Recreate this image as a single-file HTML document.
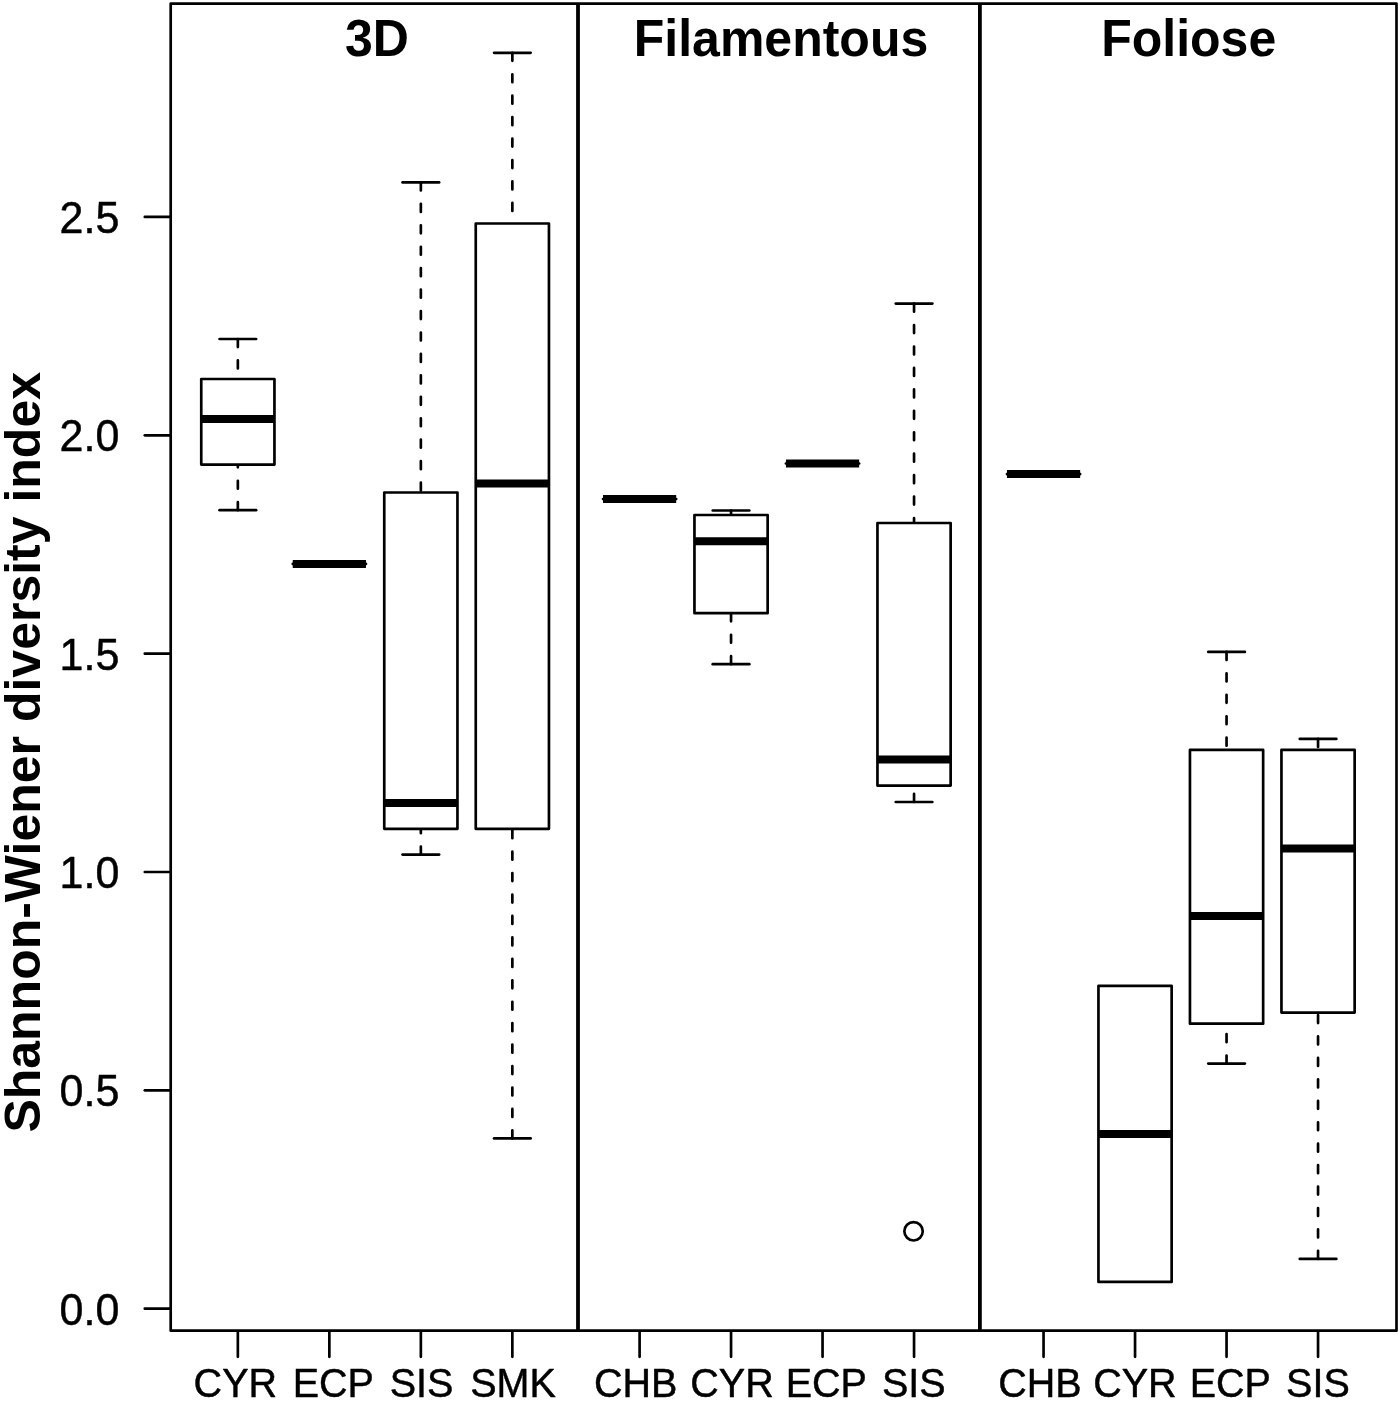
<!DOCTYPE html>
<html lang="en"><head><meta charset="utf-8"><title>Shannon-Wiener diversity index</title>
<style>
html,body{margin:0;padding:0;background:#fff;}
body{width:1400px;height:1401px;overflow:hidden;}
svg{display:block;}
text{font-family:"Liberation Sans",sans-serif;fill:#000;}
.b{font-weight:bold;}
.r{stroke:#000;stroke-width:0.45px;stroke-linejoin:round;}
.ln{stroke:#000;stroke-width:2.68;fill:none;stroke-linecap:round;stroke-linejoin:round;}
.bx{stroke:#000;stroke-width:2.68;fill:#fff;stroke-linejoin:round;}
.wh{stroke:#000;stroke-width:2.68;fill:none;stroke-linecap:round;stroke-dasharray:8.04 13.4;}
.md{stroke:#000;stroke-width:8;fill:none;stroke-linecap:butt;}
</style></head><body>
<svg width="1400" height="1401" viewBox="0 0 1400 1401">
<rect x="0" y="0" width="1400" height="1401" fill="#fff"/>
<g>
<line class="wh" x1="237.85" y1="339.00" x2="237.85" y2="379.00"/>
<line class="ln" x1="219.55" y1="339.00" x2="256.15" y2="339.00"/>
<line class="wh" x1="237.85" y1="510.20" x2="237.85" y2="464.60"/>
<line class="ln" x1="219.55" y1="510.20" x2="256.15" y2="510.20"/>
<rect class="bx" x="201.25" y="379.00" width="73.20" height="85.60"/>
<line class="md" x1="201.25" y1="419.00" x2="274.45" y2="419.00"/>
</g>
<g>
<line class="ln" x1="292.75" y1="563.90" x2="365.95" y2="563.90"/>
<line class="md" x1="292.75" y1="563.90" x2="365.95" y2="563.90"/>
</g>
<g>
<line class="wh" x1="420.85" y1="182.40" x2="420.85" y2="492.50"/>
<line class="ln" x1="402.55" y1="182.40" x2="439.15" y2="182.40"/>
<line class="wh" x1="420.85" y1="854.60" x2="420.85" y2="828.80"/>
<line class="ln" x1="402.55" y1="854.60" x2="439.15" y2="854.60"/>
<rect class="bx" x="384.25" y="492.50" width="73.20" height="336.30"/>
<line class="md" x1="384.25" y1="803.00" x2="457.45" y2="803.00"/>
</g>
<g>
<line class="wh" x1="512.35" y1="52.80" x2="512.35" y2="223.50"/>
<line class="ln" x1="494.05" y1="52.80" x2="530.65" y2="52.80"/>
<line class="wh" x1="512.35" y1="1138.40" x2="512.35" y2="828.80"/>
<line class="ln" x1="494.05" y1="1138.40" x2="530.65" y2="1138.40"/>
<rect class="bx" x="475.75" y="223.50" width="73.20" height="605.30"/>
<line class="md" x1="475.75" y1="483.50" x2="548.95" y2="483.50"/>
</g>
<g>
<line class="ln" x1="603.00" y1="499.00" x2="676.20" y2="499.00"/>
<line class="md" x1="603.00" y1="499.00" x2="676.20" y2="499.00"/>
</g>
<g>
<line class="wh" x1="731.05" y1="510.50" x2="731.05" y2="515.00"/>
<line class="ln" x1="712.75" y1="510.50" x2="749.35" y2="510.50"/>
<line class="wh" x1="731.05" y1="664.20" x2="731.05" y2="613.20"/>
<line class="ln" x1="712.75" y1="664.20" x2="749.35" y2="664.20"/>
<rect class="bx" x="694.45" y="515.00" width="73.20" height="98.20"/>
<line class="md" x1="694.45" y1="541.20" x2="767.65" y2="541.20"/>
</g>
<g>
<line class="ln" x1="785.95" y1="463.50" x2="859.15" y2="463.50"/>
<line class="md" x1="785.95" y1="463.50" x2="859.15" y2="463.50"/>
</g>
<g>
<line class="wh" x1="914.05" y1="303.60" x2="914.05" y2="523.00"/>
<line class="ln" x1="895.75" y1="303.60" x2="932.35" y2="303.60"/>
<line class="wh" x1="914.05" y1="802.00" x2="914.05" y2="785.60"/>
<line class="ln" x1="895.75" y1="802.00" x2="932.35" y2="802.00"/>
<rect class="bx" x="877.45" y="523.00" width="73.20" height="262.60"/>
<line class="md" x1="877.45" y1="759.60" x2="950.65" y2="759.60"/>
<circle class="ln" cx="913.55" cy="1231.30" r="9.2"/>
</g>
<g>
<line class="ln" x1="1006.95" y1="474.10" x2="1080.15" y2="474.10"/>
<line class="md" x1="1006.95" y1="474.10" x2="1080.15" y2="474.10"/>
</g>
<g>
<rect class="bx" x="1098.45" y="985.90" width="73.20" height="296.00"/>
<line class="md" x1="1098.45" y1="1133.90" x2="1171.65" y2="1133.90"/>
</g>
<g>
<line class="wh" x1="1226.55" y1="651.90" x2="1226.55" y2="749.90"/>
<line class="ln" x1="1208.25" y1="651.90" x2="1244.85" y2="651.90"/>
<line class="wh" x1="1226.55" y1="1063.60" x2="1226.55" y2="1023.70"/>
<line class="ln" x1="1208.25" y1="1063.60" x2="1244.85" y2="1063.60"/>
<rect class="bx" x="1189.95" y="749.90" width="73.20" height="273.80"/>
<line class="md" x1="1189.95" y1="915.90" x2="1263.15" y2="915.90"/>
</g>
<g>
<line class="wh" x1="1318.05" y1="738.90" x2="1318.05" y2="749.90"/>
<line class="ln" x1="1299.75" y1="738.90" x2="1336.35" y2="738.90"/>
<line class="wh" x1="1318.05" y1="1258.90" x2="1318.05" y2="1012.60"/>
<line class="ln" x1="1299.75" y1="1258.90" x2="1336.35" y2="1258.90"/>
<rect class="bx" x="1281.45" y="749.90" width="73.20" height="262.70"/>
<line class="md" x1="1281.45" y1="848.40" x2="1354.65" y2="848.40"/>
</g>
<rect class="ln" x="170.70" y="3.60" width="1225.80" height="1327.10" />
<line class="ln" x1="578.00" y1="3.60" x2="578.00" y2="1330.70" style="stroke-width:3.8;stroke-linecap:butt"/>
<line class="ln" x1="979.90" y1="3.60" x2="979.90" y2="1330.70" style="stroke-width:3.8;stroke-linecap:butt"/>
<line class="ln" x1="144.80" y1="1308.70" x2="169.70" y2="1308.70"/>
<text class="r" transform="translate(119.3,1324.70) scale(1,1.04)" font-size="43" text-anchor="end">0.0</text>
<line class="ln" x1="144.80" y1="1090.35" x2="169.70" y2="1090.35"/>
<text class="r" transform="translate(119.3,1106.35) scale(1,1.04)" font-size="43" text-anchor="end">0.5</text>
<line class="ln" x1="144.80" y1="872.00" x2="169.70" y2="872.00"/>
<text class="r" transform="translate(119.3,888.00) scale(1,1.04)" font-size="43" text-anchor="end">1.0</text>
<line class="ln" x1="144.80" y1="653.65" x2="169.70" y2="653.65"/>
<text class="r" transform="translate(119.3,669.65) scale(1,1.04)" font-size="43" text-anchor="end">1.5</text>
<line class="ln" x1="144.80" y1="435.30" x2="169.70" y2="435.30"/>
<text class="r" transform="translate(119.3,451.30) scale(1,1.04)" font-size="43" text-anchor="end">2.0</text>
<line class="ln" x1="144.80" y1="216.95" x2="169.70" y2="216.95"/>
<text class="r" transform="translate(119.3,232.95) scale(1,1.04)" font-size="43" text-anchor="end">2.5</text>
<line class="ln" x1="237.85" y1="1331.70" x2="237.85" y2="1356.80"/>
<text class="r" transform="translate(235.30,1397.3) scale(1,1.05)" font-size="39.5" text-anchor="middle">CYR</text>
<line class="ln" x1="329.35" y1="1331.70" x2="329.35" y2="1356.80"/>
<text class="r" transform="translate(333.35,1397.3) scale(1,1.05)" font-size="39.5" text-anchor="middle">ECP</text>
<line class="ln" x1="420.85" y1="1331.70" x2="420.85" y2="1356.80"/>
<text class="r" transform="translate(421.45,1397.3) scale(1,1.05)" font-size="39.5" text-anchor="middle">SIS</text>
<line class="ln" x1="512.35" y1="1331.70" x2="512.35" y2="1356.80"/>
<text class="r" transform="translate(513.00,1397.3) scale(1,1.05)" font-size="39.5" text-anchor="middle">SMK</text>
<line class="ln" x1="639.60" y1="1331.70" x2="639.60" y2="1356.80"/>
<text class="r" transform="translate(635.60,1397.3) scale(1,1.05)" font-size="39.5" text-anchor="middle">CHB</text>
<line class="ln" x1="731.05" y1="1331.70" x2="731.05" y2="1356.80"/>
<text class="r" transform="translate(732.00,1397.3) scale(1,1.05)" font-size="39.5" text-anchor="middle">CYR</text>
<line class="ln" x1="822.55" y1="1331.70" x2="822.55" y2="1356.80"/>
<text class="r" transform="translate(826.35,1397.3) scale(1,1.05)" font-size="39.5" text-anchor="middle">ECP</text>
<line class="ln" x1="914.05" y1="1331.70" x2="914.05" y2="1356.80"/>
<text class="r" transform="translate(913.75,1397.3) scale(1,1.05)" font-size="39.5" text-anchor="middle">SIS</text>
<line class="ln" x1="1043.55" y1="1331.70" x2="1043.55" y2="1356.80"/>
<text class="r" transform="translate(1039.90,1397.3) scale(1,1.05)" font-size="39.5" text-anchor="middle">CHB</text>
<line class="ln" x1="1135.05" y1="1331.70" x2="1135.05" y2="1356.80"/>
<text class="r" transform="translate(1134.90,1397.3) scale(1,1.05)" font-size="39.5" text-anchor="middle">CYR</text>
<line class="ln" x1="1226.55" y1="1331.70" x2="1226.55" y2="1356.80"/>
<text class="r" transform="translate(1230.30,1397.3) scale(1,1.05)" font-size="39.5" text-anchor="middle">ECP</text>
<line class="ln" x1="1318.05" y1="1331.70" x2="1318.05" y2="1356.80"/>
<text class="r" transform="translate(1317.90,1397.3) scale(1,1.05)" font-size="39.5" text-anchor="middle">SIS</text>
<text class="b" transform="translate(376.90,56.3) scale(1,1.03)" font-size="50" text-anchor="middle">3D</text>
<text class="b" transform="translate(781.00,56.3) scale(1,1.03)" font-size="50" text-anchor="middle">Filamentous</text>
<text class="b" transform="translate(1188.70,56.3) scale(1,1.03)" font-size="50" text-anchor="middle">Foliose</text>
<text class="b" transform="translate(39.9,752.3) rotate(-90) scale(1,1.015)" font-size="50" text-anchor="middle">Shannon-Wiener diversity index</text>
</svg>
</body></html>
